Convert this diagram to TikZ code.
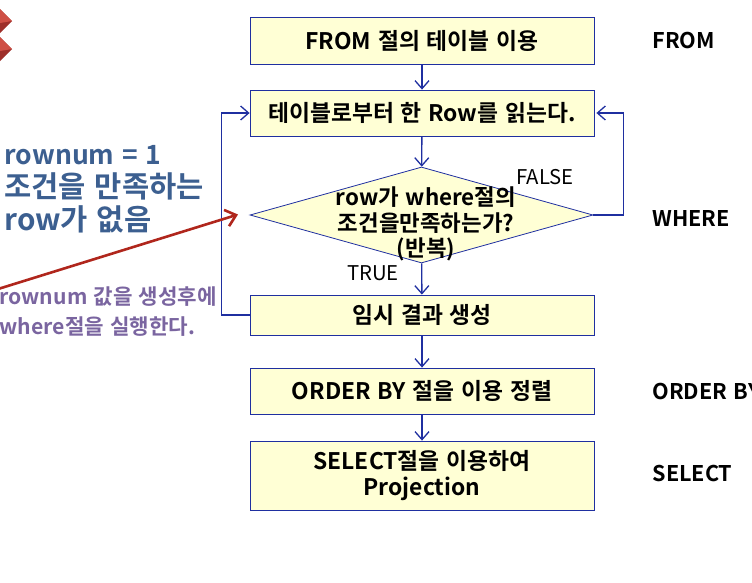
\documentclass[tikz,border=0pt]{standalone}
\usepackage{fontspec}
\setmainfont{Noto Sans CJK KR}[BoldFont={Noto Sans CJK KR Bold}, WordSpace=1.3]
\usetikzlibrary{arrows.meta,positioning,shapes.geometric}
\definecolor{boxfill}{HTML}{FFFFD5}
\definecolor{flowblue}{HTML}{1F2FA0}
\definecolor{notered}{HTML}{B0261C}
\definecolor{noteblue}{HTML}{3C5F90}
\definecolor{notepurple}{HTML}{7A65A0}
\definecolor{markdark}{HTML}{9E2F2A}
\definecolor{marklight}{HTML}{CF4F45}
\tikzset{
  stepbox/.style={draw=flowblue, fill=boxfill, line width=0.8pt, minimum width=344pt, inner sep=0pt, align=center, font=\fontsize{22.8}{26}\selectfont\bfseries},
  flow/.style={draw=flowblue, line width=1.3pt, -{Straight Barb[length=8pt,width=14pt]}},
  sidelabel/.style={anchor=west, font=\fontsize{21.6}{24}\selectfont\bfseries},
  branch/.style={font=\fontsize{20.3}{22}\selectfont},
}
\begin{document}
\begin{tikzpicture}[x=1pt, y=-1pt]
  \useasboundingbox (0,0) rectangle (752,582);
  \clip (0,0) rectangle (752,582);
  % corner marks
  \foreach \y in {21,49} {
    \fill[markdark] (-16,\y) -- (-2,\y-14) -- (12,\y) -- (-2,\y+14) -- cycle;
    \fill[marklight] (-8,\y-1) -- (-2,\y-14) -- (12,\y) -- (0,\y+2) -- cycle;
  }
  % flow boxes
  \node[stepbox, minimum height=47pt] (from) at (422,40.5) {FROM 절의 테이블 이용};
  \node[stepbox, minimum height=46pt] (readrow) at (422,113) {테이블로부터 한 Row를 읽는다.};
  \node[draw=flowblue, fill=boxfill, line width=0.8pt, diamond, aspect=3.57, minimum width=343pt, minimum height=96pt, inner sep=0pt] (test) at (421.5,215) {};
  \node[align=center, font=\fontsize{22.4}{25.5}\selectfont\bfseries] (testtext) at (426,224) {row가 where절의\\조건을만족하는가?\\(반복)};
  \node[stepbox, minimum height=40pt] (temp) at (422,315) {임시 결과 생성};
  \node[stepbox, minimum height=46pt] (order) at (422,391) {ORDER BY 절을 이용 정렬};
  \node[stepbox, minimum height=69pt] (select) at (422,475.5) {SELECT절을 이용하여\\Projection};
  % connectors
  \draw[flow] (from) -- (readrow);
  \draw[flow] (readrow) -- (test);
  \draw[flow] (test) -- (temp);
  \draw[flow] (temp) -- (order);
  \draw[flow] (order) -- (select);
  \draw[flow] (temp.west) -- ++(-28,0) |- (readrow.west);
  \draw[flow] (test.east) -- ++(30,0) |- ([xshift=2pt]readrow.east);
  % branch labels
  \node[branch] (falselabel) at (545,177) {FALSE};
  \node[branch] (truelabel) at (373,273.5) {TRUE};
  % clause names
  \node[sidelabel] (fromname) at (649,41) {FROM};
  \node[sidelabel] (wherename) at (649,218) {WHERE};
  \node[sidelabel] (ordername) at (649,391) {ORDER BY};
  \node[sidelabel] (selectname) at (649,473) {SELECT};
  % notes on the left
  \node[anchor=west, align=left, text=noteblue, font=\fontsize{29.6}{33}\selectfont\bfseries] (emptynote) at (1,189.5) {{\fontsize{26.5}{33}\selectfont rownum = 1}\\조건을 만족하는\\row가 없음};
  \node[anchor=west, align=left, text=notepurple, font=\fontsize{21.2}{30}\selectfont\bfseries] (ordernote) at (-4,312) {rownum 값을 생성후에\\where절을 실행한다.};
  % red pointer
  \coordinate (pointerstart) at (-10,291.5);
  \coordinate (pointerend) at (238,214.5);
  \draw[draw=notered, line width=2.6pt, -{Straight Barb[length=10pt,width=17pt]}] (pointerstart) -- (pointerend);
\end{tikzpicture}
\end{document}
